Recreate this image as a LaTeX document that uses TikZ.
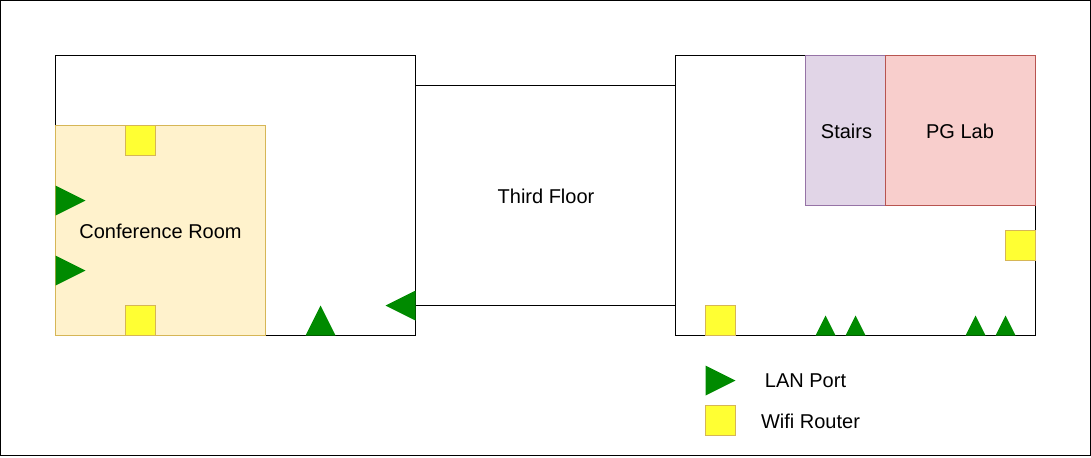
\documentclass[tikz,border=0pt]{standalone}
\usepackage{fontspec}
\setmainfont{Liberation Sans}
\definecolor{confFill}{HTML}{FFF2CC}
\definecolor{confLine}{HTML}{D6B656}
\definecolor{stairFill}{HTML}{E1D5E7}
\definecolor{stairLine}{HTML}{9673A6}
\definecolor{labFill}{HTML}{F8CECC}
\definecolor{labLine}{HTML}{B85450}
\definecolor{routerFill}{HTML}{FFFF33}
\definecolor{portGreen}{HTML}{008A00}
\begin{document}
\begin{tikzpicture}
    [ x=0.75pt, y=-0.75pt, line width=0.75pt
    , every node/.style={font=\fontsize{15}{18}\selectfont}
    , router/.style={draw=confLine,fill=routerFill,shape=rectangle,minimum size=22.5pt,inner sep=0pt}
    , port/.style={fill=portGreen,shift={(0.5,0.5)}}
    ]
    \useasboundingbox (0,0) rectangle (1091,457);
    \draw (0.5,0.5) rectangle (1090.5,455.5);

    % the two wings and the corridor between them
    \draw (55,55) rectangle (415,335);
    \draw (675,55) rectangle (1035,335);
    \draw (415,85) -- (675,85);
    \draw (415,305) -- (675,305);
    \node (thirdFloor) at (546,196) {Third Floor};

    % rooms
    \draw [draw=confLine, fill=confFill] (55,125) rectangle (265,335);
    \draw [draw=stairLine, fill=stairFill] (805,55) rectangle (885,205);
    \draw [draw=labLine, fill=labFill] (885,55) rectangle (1035,205);
    \node (conference) at (160.5,231) {Conference Room};
    \node (stairs) at (846.5,131) {Stairs};
    \node (pgLab) at (960,131) {PG Lab};

    % routers
    \path (140,140) node [router] (routerA) {}
          (140,320) node [router] (routerB) {}
          (1020,245) node [router] (routerC) {}
          (720,320) node [router] (routerD) {};

    % ports
    \fill [port] (55,185) -- (85,200) -- (55,215) -- cycle;
    \fill [port] (55,255) -- (85,270) -- (55,285) -- cycle;
    \fill [port] (305,335) -- (320,305) -- (335,335) -- cycle;
    \fill [port] (415,290) -- (385,305) -- (415,320) -- cycle;
    \foreach \tipx in {825,855,975,1005}
      \fill [port] ({\tipx-10},335) -- (\tipx,315) -- ({\tipx+10},335) -- cycle;

    % legend
    \fill [port] (705,365) -- (735,380) -- (705,395) -- cycle;
    \node (lanLabel) at (805.5,381) {LAN Port};
    \path (720,420) node [router] (routerKey) {};
    \node (wifiLabel) at (810.5,421) {Wifi Router};
  \end{tikzpicture}
\end{document}
